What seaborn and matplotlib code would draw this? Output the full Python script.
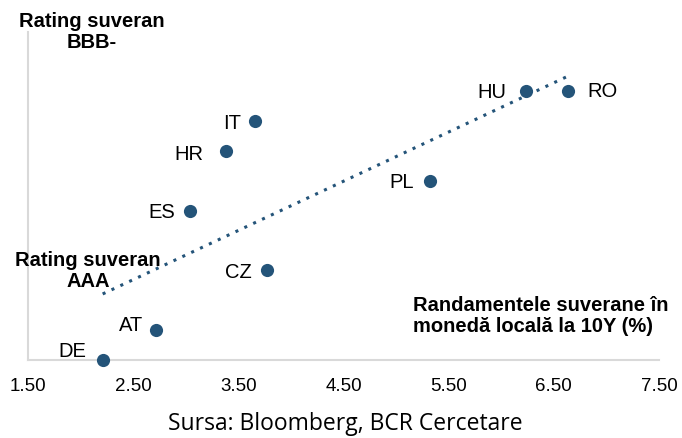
import numpy as np
import pandas as pd
import matplotlib.pyplot as plt
import seaborn as sns

# Countries, 10Y local-currency yields (%) and sovereign rating notch (0 = AAA ... 9 = BBB-)
countries = ['DE', 'AT', 'ES', 'HR', 'IT', 'CZ', 'PL', 'HU', 'RO']
yields = [2.21, 2.72, 3.04, 3.38, 3.66, 3.77, 5.32, 6.24, 6.63]
rating_notch = [0, 1, 5, 7, 8, 3, 6, 9, 9]
x_ticks = [1.5, 2.5, 3.5, 4.5, 5.5, 6.5, 7.5]

df = pd.DataFrame({'country': countries, 'yield': yields, 'rating': rating_notch})

sns.set_style('white')
plt.rcParams['font.family'] = ['Liberation Sans', 'DejaVu Sans']
plt.rcParams['text.color'] = 'black'

blue = '#245479'
fig = plt.figure(figsize=(6.82, 4.39), dpi=100)
ax = fig.add_axes([28 / 682, 1 - 361 / 439, (659 - 28) / 682, (361 - 33) / 439])

sns.regplot(data=df, x='yield', y='rating', scatter=False, ci=None, ax=ax,
            line_kws={'color': blue, 'linestyle': (0, (1, 2.2)), 'linewidth': 2.2})
sns.scatterplot(data=df, x='yield', y='rating', color=blue, s=90, edgecolor=blue,
                linewidth=0, ax=ax, clip_on=False, zorder=5)

# label offsets in pixels from the point centre
label_offsets = {'DE': (-16, 9), 'AT': (-13, 6), 'ES': (-15, -1), 'HR': (-22, -3),
                 'IT': (-14, -2), 'CZ': (-15, -1), 'PL': (-16, -1), 'HU': (-20, -1),
                 'RO': (20, 0)}
for c, xv, yv in zip(countries, yields, rating_notch):
    dx, dy = label_offsets[c]
    ax.annotate(c, (xv, yv), xytext=(dx, dy), textcoords='offset pixels',
                ha='left' if dx > 0 else 'right', va='center', fontsize=14.5, color='black')

ax.set_xlim(1.5, 7.5)
ax.set_ylim(0, 10.97)
ax.set_xticks(x_ticks)
ax.set_xticklabels([f'{t:.2f}' for t in x_ticks], fontsize=13.5, color='black')
ax.set_yticks([])
ax.set_xlabel('')
ax.set_ylabel('')
ax.tick_params(axis='x', length=0, pad=12)
for side in ['top', 'right']:
    ax.spines[side].set_visible(False)
for side in ['left', 'bottom']:
    ax.spines[side].set_color('#d9d9d9')
    ax.spines[side].set_linewidth(1.5)

fig.text(92 / 682, 1 - 32 / 439, 'Rating suveran\nBBB-', ha='center', va='center',
         fontsize=14.5, fontweight='bold', linespacing=1.15, color='black')
fig.text(88 / 682, 1 - 271 / 439, 'Rating suveran\nAAA', ha='center', va='center',
         fontsize=14.5, fontweight='bold', linespacing=1.15, color='black')
fig.text(413 / 682, 1 - 316 / 439, 'Randamentele suverane în\nmonedă locală la 10Y (%)',
         ha='left', va='center', fontsize=14.5, fontweight='bold', linespacing=1.15,
         color='black')
fig.text(345 / 682, 1 - 424 / 439, 'Sursa: Bloomberg, BCR Cercetare', ha='center',
         va='center', fontsize=16.5, family=['Open Sans', 'DejaVu Sans'], color='black')

fig.savefig('out.png', dpi=100)
